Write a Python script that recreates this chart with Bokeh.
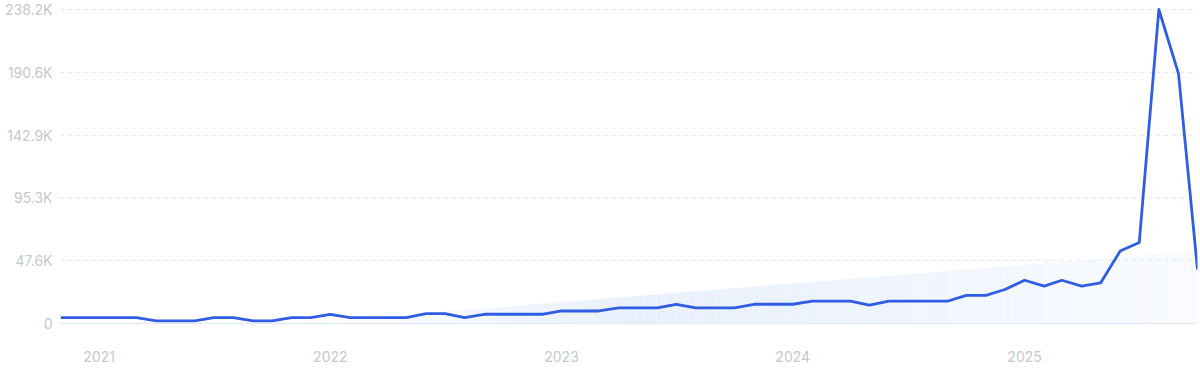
import numpy as np
import pandas as pd
from bokeh.plotting import figure
from bokeh.models import Range1d, FixedTicker, CustomJSTickFormatter, DatetimeTickFormatter, ColumnDataSource
from bokeh.embed import file_html
from bokeh.resources import INLINE

# ---- data (monthly search volume, thousands) ----
months = pd.date_range("2020-11-01", "2025-10-01", freq="MS")
volume_k = [4.5, 4.5, 4.5, 4.5, 4.5, 2.0, 2.0, 2.0, 4.5, 4.5, 2.0, 2.0, 4.5, 4.5,
            7.0, 4.5, 4.5, 4.5, 4.5, 7.5, 7.5, 4.5, 7.0, 7.0, 7.0, 7.0,
            9.5, 9.5, 9.5, 11.8, 11.8, 11.8, 14.6, 11.8, 11.8, 11.8, 14.6, 14.6,
            14.6, 16.9, 16.9, 16.9, 13.9, 16.9, 16.9, 16.9, 16.9, 21.4, 21.4, 25.8,
            32.8, 28.3, 32.8, 28.3, 30.8, 55.0, 61.4, 238.2, 189.5, 40.9]
y_tick_labels = ["0", "47.6K", "95.3K", "142.9K", "190.6K", "238.2K"]
year_ticks = ["2021-01-01", "2022-01-01", "2023-01-01", "2024-01-01", "2025-01-01"]

vals = np.array(volume_k) * 1000.0
ms = (months.asi8 // 10**6).astype(float)
ymax = vals.max()
y_ticks = [ymax * i / 5 for i in range(6)]

W, H = 1200, 372
border_left, border_bottom, border_right = 60, 49, 3
frame_h = H - border_bottom
top_pad = 9
y_end = ymax * frame_h / (frame_h - top_pad)

p = figure(width=W, height=H, output_backend="svg", toolbar_location=None,
           x_range=Range1d(ms[0], ms[-1]), y_range=Range1d(0, y_end),
           min_border_left=border_left, min_border_right=border_right, min_border_top=0,
           min_border_bottom=border_bottom)
p.outline_line_color = None
p.background_fill_color = "white"
p.border_fill_color = "white"

# ---- trend area (linear regression, clipped at 0) ----
idx = np.arange(len(vals))
slope, intercept = np.polyfit(idx, vals, 1)
x0 = max(0.0, -intercept / slope)
N = 140
edges = np.linspace(x0, idx[-1], N + 1)
xs, ys, alphas = [], [], []
peak_t = 0.38
for a, b in zip(edges[:-1], edges[1:]):
    xa, xb = np.interp([a, b], idx, ms)
    ya, yb = max(0, intercept + slope * a), max(0, intercept + slope * b)
    xs.append([xa, xa, xb, xb])
    ys.append([0, ya, yb, 0])
    t = ((a + b) / 2 - x0) / (idx[-1] - x0)
    if t < peak_t:
        al = t / peak_t
    else:
        al = 1 - 0.75 * (t - peak_t) / (1 - peak_t)
    alphas.append(al)
p.patches(xs, ys, fill_color="#e8f0fc", fill_alpha=alphas, line_color=None)

# ---- main line ----
src = ColumnDataSource(dict(x=ms, y=vals))
p.line("x", "y", source=src, line_color="#2f5de3", line_width=2.8, line_join="round")

# ---- axes ----
p.yaxis.ticker = FixedTicker(ticks=y_ticks)
p.yaxis.formatter = CustomJSTickFormatter(args=dict(labels=y_tick_labels, tvals=y_ticks), code="""
    let best = 0, d = 1e99;
    for (let i = 0; i < tvals.length; i++) { const dd = Math.abs(tvals[i] - tick); if (dd < d) { d = dd; best = i; } }
    return labels[best];
""")
p.yaxis.axis_line_color = None
p.yaxis.major_tick_line_color = None
p.yaxis.minor_tick_line_color = None
p.yaxis.major_label_standoff = 2
p.yaxis.major_label_text_font = "Inter"
p.yaxis.major_label_text_font_size = "14px"
p.yaxis.major_label_text_color = "#c6c7d0"

p.xaxis.ticker = FixedTicker(ticks=[pd.Timestamp(d).value / 1e6 for d in year_ticks])
p.xaxis.formatter = DatetimeTickFormatter(years="%Y", months="%Y", days="%Y", hours="%Y")
p.xaxis.axis_line_color = "#e3eaf6"
p.xaxis.axis_line_width = 1.5
p.xaxis.major_tick_line_color = None
p.xaxis.minor_tick_line_color = None
p.xaxis.major_label_standoff = 21
p.xaxis.major_label_text_font = "Inter"
p.xaxis.major_label_text_font_size = "14px"
p.xaxis.major_label_text_color = "#c6c7d0"

p.xgrid.grid_line_color = None
p.ygrid.grid_line_color = "#dbe8f7"
p.ygrid.grid_line_dash = "4 4"
p.ygrid.grid_line_width = 1

open("out.html", "w").write(file_html(p, INLINE))
